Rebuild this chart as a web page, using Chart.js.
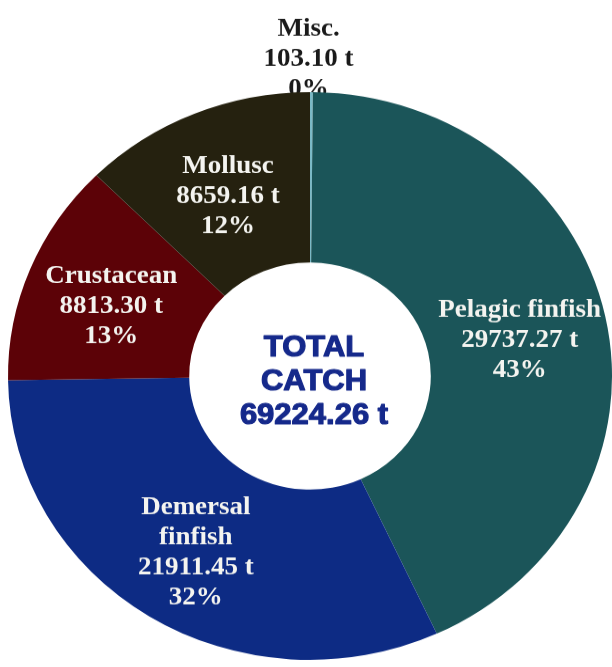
<!DOCTYPE html>
<html>
<head>
<meta charset="utf-8">
<script src="https://cdn.jsdelivr.net/npm/chart.js@4"></script>
<style>
  html, body { margin:0; padding:0; background:#fff; overflow:hidden; }
  /* the source picture is slightly squashed vertically */
  #wrap { width:612px; height:710px; transform:scaleY(0.94); transform-origin:0 0; }
</style>
</head>
<body>
<div id="wrap"><canvas id="chart-catch"></canvas></div>
<script>
// ── Data ─────────────────────────────────────────────────────
const categories  = ['Misc.', 'Pelagic finfish', 'Demersal finfish', 'Crustacean', 'Mollusc'];
const nameLines   = [['Misc.'], ['Pelagic finfish'], ['Demersal', 'finfish'], ['Crustacean'], ['Mollusc']];
const catchTonnes = [103.10, 29737.27, 21911.45, 8813.30, 8659.16];
const shareLabels = ['0%', '43%', '32%', '13%', '12%'];
const totalLines  = ['TOTAL', 'CATCH', '69224.26 t'];

const C = {
  slices: ['#7bb9c6', '#1b5559', '#0d2b84', '#5c0207', '#25210f'],
  total:  '#15298b',
};
const LABEL_FONT = 'bold 27px "Liberation Serif", "Times New Roman", serif';
const LINE_H = 32;

function sliceLines(i) {
  return [...nameLines[i], catchTonnes[i].toFixed(2) + ' t', shareLabels[i]];
}

function drawBlock(ctx, lines, x, y, lh, stroke) {
  const top = y - (lines.length - 1) * lh / 2;
  lines.forEach((s, k) => {
    if (stroke) ctx.strokeText(s, x, top + k * lh);
    ctx.fillText(s, x, top + k * lh);
  });
}

// ── Label plugin ─────────────────────────────────────────────
const sliceLabels = {
  id: 'sliceLabels',
  beforeDatasetsDraw(chart) {
    // Misc. sits outside the ring; ring is painted over its last line
    const ctx = chart.ctx, arc = chart.getDatasetMeta(0).data[0];
    const mid = (arc.startAngle + arc.endAngle) / 2, r = arc.outerRadius * 1.12;
    ctx.save();
    ctx.font = LABEL_FONT; ctx.fillStyle = '#1a1a1a';
    ctx.textAlign = 'center'; ctx.textBaseline = 'middle';
    drawBlock(ctx, sliceLines(0), arc.x + Math.cos(mid) * r - 3, arc.y + Math.sin(mid) * r + 1, 32);
    ctx.restore();
  },
  afterDatasetsDraw(chart) {
    const ctx = chart.ctx, arcs = chart.getDatasetMeta(0).data;
    ctx.save();
    ctx.font = LABEL_FONT; ctx.fillStyle = '#f4f4f0';
    ctx.textAlign = 'center'; ctx.textBaseline = 'middle';
    arcs.forEach((arc, i) => {
      if (i === 0) return;
      const mid = (arc.startAngle + arc.endAngle) / 2, r = arc.outerRadius * 0.71;
      drawBlock(ctx, sliceLines(i), arc.x + Math.cos(mid) * r, arc.y + Math.sin(mid) * r + 7, LINE_H);
    });
    // centre caption
    const a = arcs[0];
    ctx.font = 'bold 31px "Liberation Sans", Arial, sans-serif';
    ctx.fillStyle = C.total; ctx.strokeStyle = C.total; ctx.lineWidth = 1.2; ctx.lineJoin = 'round';
    drawBlock(ctx, totalLines, a.x + 4, a.y + 6, 36, true);
    ctx.restore();
  },
};

new Chart(document.getElementById('chart-catch'), {
  type: 'doughnut',
  data: {
    labels: categories,
    datasets: [{ data: catchTonnes, backgroundColor: C.slices, borderWidth: 0 }],
  },
  options: {
    responsive: true, maintainAspectRatio: false, animation: false,
    cutout: '40%', rotation: 0,
    layout: { padding: { left: 8, right: 0, top: 98, bottom: 8 } },
    plugins: { legend: { display: false }, tooltip: { enabled: false } },
  },
  plugins: [sliceLabels],
});
</script>
</body>
</html>
